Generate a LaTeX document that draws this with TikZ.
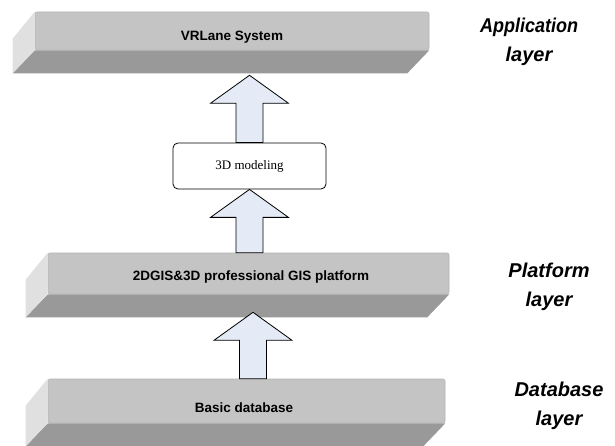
\documentclass[tikz,border=0pt]{standalone}
\usepackage{fontspec}
\newfontfamily\arialfont{Liberation Sans}
\newfontfamily\timesfont{Liberation Serif}
\usetikzlibrary{calc}
\definecolor{slabfront}{HTML}{C4C4C4}
\definecolor{slabbottom}{HTML}{999999}
\definecolor{slableft}{HTML}{E0E0E0}
\definecolor{slabedge}{HTML}{B4B4B4}
\definecolor{arrowfill}{HTML}{E4EBF6}
\tikzset{
  slabfront/.style={fill=slabfront, draw=slabedge, line width=0.6pt, rounded corners=2pt},
  slabtext/.style={font=\arialfont\bfseries\fontsize{13.5}{16}\selectfont, inner sep=0pt, anchor=base},
  layerlabel/.style={font=\arialfont\bfseries\itshape\fontsize{20}{29}\selectfont, align=center, inner sep=0pt, anchor=north},
  modelbox/.style={draw=black, line width=0.8pt, fill=white, rounded corners=5pt, font=\timesfont\fontsize{13}{15}\selectfont},
  blockarrow/.style={fill=arrowfill, draw=black, line width=0.8pt, line join=miter}
}
\newcommand\slabfaces[1]{%
  \fill[slabbottom] (#1.south west) -- (#1.south east) -- ++(-22,23) -- ($(#1.south west)+(-22,23)$) -- cycle;
  \fill[slableft] (#1.north west) -- (#1.south west) -- ++(-22,23) -- ($(#1.north west)+(-22,27)$) -- cycle;
}
\newcommand\blockarr[2]{%
  \draw[blockarrow] let \p1=(#1), \p2=(#2) in
    (\x2,\y2) -- (\x2+39pt,\y2-28pt) -- (\x2+13.5pt,\y2-28pt) -- (\x2+13.5pt,\y1)
    -- (\x2-13.5pt,\y1) -- (\x2-13.5pt,\y2-28pt) -- (\x2-39pt,\y2-28pt) -- cycle;
}
\begin{document}
\begin{tikzpicture}[x=1pt,y=-1pt]
  \fill[white] (0,0) rectangle (615,446);
  \useasboundingbox (0,0) rectangle (615,446);

  % slabs
  \node[slabfront, minimum width=394pt, minimum height=38pt] (vr) at (232,31) {};
  \slabfaces{vr}
  \node[slabtext] (vrtext) at (232,41) {VRLane System};

  \node[slabfront, minimum width=401pt, minimum height=41pt] (plat) at (248.5,273.5) {};
  \slabfaces{plat}
  \node[slabtext] (plattext) at (251,280) {2DGIS\&3D professional GIS platform};

  \node[slabfront, minimum width=397pt, minimum height=44pt] (db) at (246.5,401) {};
  \slabfaces{db}
  \node[slabtext] (dbtext) at (244,412) {Basic database};

  % middle box
  \node[modelbox, minimum width=153pt, minimum height=46pt] (model) at (249.5,166) {3D modeling};

  % arrow coordinates
  \coordinate (tip1) at ($(model.north |- vr.south)+(0,25)$);
  \coordinate (tip3) at ($(plat.south)+(4.5,18)$);
  \coordinate (base3) at (tip3 |- db.north);
  \coordinate (base2) at (model.south |- plat.north);

  \blockarr{model.north}{tip1}
  \blockarr{base2}{model.south}
  \blockarr{base3}{tip3}

  % layer labels
  \node[layerlabel] (applbl) at (529,18) {\scalebox{0.9}[1]{Application}\\layer};
  \node[layerlabel] (platlbl) at (549,262.5) {Platform\\layer};
  \node[layerlabel] (dblbl) at (559,381.5) {Database\\layer};
\end{tikzpicture}
\end{document}
